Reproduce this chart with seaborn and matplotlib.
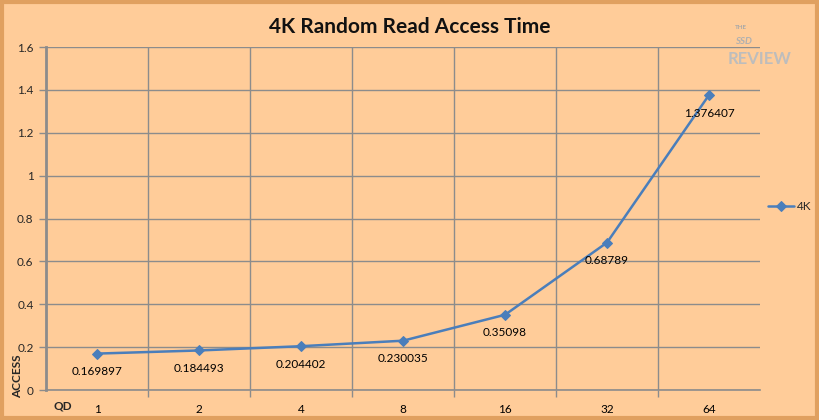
import matplotlib
matplotlib.use("Agg")
import matplotlib.pyplot as plt
import seaborn as sns
import pandas as pd
from matplotlib.patches import Rectangle

# data
qd = ["1", "2", "4", "8", "16", "32", "64"]
access = [0.169897, 0.184493, 0.204402, 0.230035, 0.35098, 0.68789, 1.376407]
point_labels = ["0.169897", "0.184493", "0.204402", "0.230035", "0.35098", "0.68789", "1.376407"]
y_ticks = [0, 0.2, 0.4, 0.6, 0.8, 1, 1.2, 1.4, 1.6]
y_tick_labels = ["0", "0.2", "0.4", "0.6", "0.8", "1", "1.2", "1.4", "1.6"]

bg = "#FFCC99"
line_col = "#4A7EBB"
grid_col = "#8C8C8C"

sns.set_theme(style="white")
plt.rcParams["font.family"] = ["Lato", "DejaVu Sans"]

df = pd.DataFrame({"QD": qd, "Access": access})

fig = plt.figure(figsize=(8.19, 4.2), dpi=100, facecolor=bg)
ax = fig.add_axes([0.0562, 0.0714, 0.8718, 0.8166])
ax.set_facecolor(bg)

sns.lineplot(data=df, x="QD", y="Access", sort=False, ax=ax, color=line_col,
             linewidth=1.8, marker="D", markersize=5, markeredgecolor=line_col,
             label="4K")

for i, (v, t) in enumerate(zip(access, point_labels)):
    ax.annotate(t, (i, v), xytext=(0, -13), textcoords="offset points",
                ha="center", va="center", fontsize=8.5, color="black")

ax.set_xlim(-0.5, len(qd) - 0.5)
ax.set_ylim(0, 1.6)
ax.set_yticks(y_ticks)
ax.set_yticklabels(y_tick_labels)
ax.set_xticks(range(len(qd)))
ax.set_xticklabels(qd)
ax.set_xticks([i + 0.5 for i in range(len(qd) - 1)], minor=True)

ax.tick_params(axis="x", which="major", length=0, pad=10, labelsize=8.5, colors="black")
ax.tick_params(axis="x", which="minor", length=5, width=1, color=grid_col, bottom=True)
ax.tick_params(axis="y", length=5, width=1, color=grid_col, left=True, pad=4, labelsize=8.5)

ax.grid(False)
ax.yaxis.grid(True, color=grid_col, linewidth=1)
ax.xaxis.grid(True, which="minor", color=grid_col, linewidth=1)

for s in ["top", "right"]:
    ax.spines[s].set_visible(False)
ax.spines["left"].set_color(grid_col)
ax.spines["left"].set_linewidth(2)
ax.spines["bottom"].set_color(grid_col)
ax.spines["bottom"].set_linewidth(1.2)

ax.set_xlabel("")
ax.set_ylabel("")
fig.text(0.077, 0.033, "QD", fontsize=8.5, fontweight="bold", ha="center", va="center")
fig.text(0.022, 0.105, "ACCESS", fontsize=8.5, fontweight="bold", rotation=90,
         ha="center", va="center")

fig.text(0.5, 0.935, "4K Random Read Access Time", fontsize=15, fontweight="bold",
         ha="center", va="center", color="#111111")

# watermark
fig.text(0.905, 0.935, "THE", fontsize=4.5, color="#A8A8A8", ha="center", va="center", fontweight="bold")
fig.text(0.908, 0.9, "SSD", fontsize=7, color="#B0B0B0", ha="center", va="center",
         fontweight="bold", style="italic")
fig.text(0.927, 0.86, "REVIEW", fontsize=12, color="#BDBDBD", ha="center", va="center",
         fontweight="bold")

leg = ax.legend(loc="center left", bbox_to_anchor=(1.0, 0.535), frameon=False,
                fontsize=8.5, handlelength=2.2, handletextpad=0.2, borderaxespad=0.3)

# outer bevel frame
fig.patches.append(Rectangle((0.002, 0.004), 0.996, 0.992, transform=fig.transFigure,
                             fill=False, edgecolor="#E0A060", linewidth=3))

fig.savefig("out.png", dpi=100, facecolor=bg)
